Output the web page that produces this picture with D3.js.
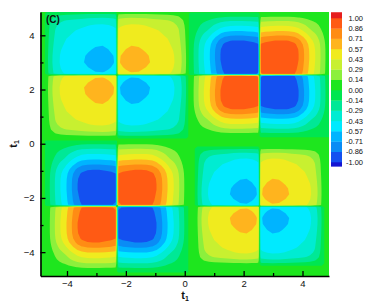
<!DOCTYPE html>
<html>
<head>
<meta charset="UTF-8"/>
<script src="https://cdn.jsdelivr.net/npm/d3@7"></script>
<style>
  body { margin: 0; background: #fff; }
  svg text { font-family: "Liberation Sans", Arial, sans-serif; fill: #111; }
  .axis path, .axis line { stroke: #000; }
</style>
</head>
<body>
<svg id="fig" width="382" height="308"></svg>
<script>
// contour levels (legend) and their labels
const levels = [-1, -0.857, -0.714, -0.571, -0.429, -0.286, -0.143, 0, 0.143, 0.286, 0.429, 0.571, 0.714, 0.857, 1]
const levelLabels = ["-1.00","-0.86","-0.71","-0.57","-0.43","-0.29","-0.14","0.00","0.14","0.29","0.43","0.57","0.71","0.86","1.00"]
// flood colours, from below -1 up to above 1
const bandColors = ["#1414d2","#1450f0","#0a8cf5","#00b4ff","#00eaff","#00ecd2","#00e896","#00e650",
                    "#1ee61e","#8cf03c","#c8f030","#f0eb1e","#ffb41e","#ff8c14","#ff5a14","#e61e1e"]

// the four lobe groups: cross centre, peak value, half widths along t1 / t2
const quadCx  = [-2.30, 2.54, -2.30,  2.54]
const quadCy  = [ 2.54, 2.54, -2.30, -2.30]
const quadAmp = [ 0.62, 0.98,  0.97,  0.62]
const quadWx  = [ 2.45, 2.40,  2.45,  2.20]
const quadWy  = [ 2.35, 2.30,  2.45,  2.20]
const quadShape = ["broad", "narrow", "narrow", "broad"]

// lobe profile read across a lobe: offset from the cross (in half widths) -> relative value
const shapeU = {
  narrow: [0, 0.02, 0.08, 0.16, 0.25, 0.33, 0.41, 0.49, 0.55, 0.61, 0.67, 0.73, 0.80, 0.86, 0.92, 0.98, 1],
  broad:  [0, 0.02, 0.05, 0.12, 0.20, 0.30, 0.40, 0.50, 0.60, 0.70, 0.78, 0.85, 0.91, 0.96, 1]
}
const shapeH = {
  narrow: [0, 0.93, 0.96, 0.98, 1.00, 1.00, 0.99, 0.95, 0.88, 0.77, 0.65, 0.53, 0.42, 0.30, 0.17, 0.06, 0],
  broad:  [0, 0.90, 0.93, 0.97, 1.00, 0.99, 0.95, 0.90, 0.85, 0.80, 0.72, 0.60, 0.42, 0.22, 0]
}

const xTicks = [-4, -2, 0, 2, 4], xMinor = [-3, -1, 1, 3]
const yTicks = [-4, -2, 0, 2, 4], yMinor = [-3, -1, 1, 3]

////////////////////////////////////////////////////////////

const svg = d3.select("#fig")
const x = d3.scaleLinear().domain([-4.9, 4.9]).range([40.5, 329])
const y = d3.scaleLinear().domain([-4.88, 4.86]).range([276, 12])
const split = 0.12   // border between the lobe groups

const plot = svg.append("g")

// background = band holding 0
plot.append("rect").attr("x", x(-4.9)).attr("y", y(4.86))
  .attr("width", x(4.9) - x(-4.9)).attr("height", y(-4.88) - y(4.86))
  .attr("fill", bandColors[8])

quadCx.forEach((cx, q) => {
  const cy = quadCy[q]
  const x0 = cx < split ? -4.9 : split, x1 = cx < split ? split : 4.9
  const y0 = cy < split ? -4.88 : split, y1 = cy < split ? split : 4.86
  svg.append("clipPath").attr("id", "clip" + q)
    .append("rect").attr("x", x(x0)).attr("y", y(y1))
    .attr("width", x(x1) - x(x0)).attr("height", y(y0) - y(y1))

  const u = shapeU[quadShape[q]], h = shapeH[quadShape[q]]
  const offs = u.slice(1).reverse().map(v => -v).concat(u)
  const prof = h.slice(1).reverse().map(v => -v).concat(h)
  const n = offs.length
  const xs = offs.map(o => cx + o * quadWx[q])
  const ys = offs.map(o => cy + o * quadWy[q])
  const values = new Array(n * n)
  for (let j = 0; j < n; j++)
    for (let i = 0; i < n; i++)
      values[j * n + i] = quadAmp[q] * prof[i] * prof[j]
  const neg = values.map(v => -v)

  const xi = d3.scaleLinear().domain(d3.range(n)).range(xs)
  const yi = d3.scaleLinear().domain(d3.range(n)).range(ys)
  const proj = d3.geoTransform({
    point: function(px, py) { this.stream.point(x(xi(px - 0.5)), y(yi(py - 0.5))) }
  })
  const path = d3.geoPath(proj)
  const gen = d3.contours().size([n, n])

  const g = plot.append("g").attr("clip-path", `url(#clip${q})`)
  // negative bands, widest first
  for (let k = 7; k >= 0; k--) {
    const t = k === 7 ? 1e-6 : -levels[k]
    g.append("path").attr("d", path(gen.contour(neg, t))).attr("fill", bandColors[k])
  }
  // positive bands
  for (let k = 8; k < levels.length; k++) {
    g.append("path").attr("d", path(gen.contour(values, levels[k]))).attr("fill", bandColors[k + 1])
  }
})

// axes
svg.append("g").attr("class", "axis").attr("transform", `translate(0,${y(-4.88)})`)
  .call(d3.axisBottom(x).tickValues(xTicks).tickSize(-5).tickSizeOuter(0).tickPadding(4)
        .tickFormat(d3.format("d")))
svg.append("g").attr("class", "axis").attr("transform", `translate(0,${y(-4.88)})`)
  .call(d3.axisBottom(x).tickValues(xMinor).tickSize(-3).tickFormat(""))
  .select(".domain").remove()
svg.append("g").attr("class", "axis").attr("transform", `translate(${x(-4.9)},0)`)
  .call(d3.axisLeft(y).tickValues(yTicks).tickSize(-5).tickSizeOuter(0).tickPadding(6)
        .tickFormat(d3.format("d")))
svg.append("g").attr("class", "axis").attr("transform", `translate(${x(-4.9)},0)`)
  .call(d3.axisLeft(y).tickValues(yMinor).tickSize(-3).tickFormat(""))
  .select(".domain").remove()

svg.selectAll(".axis .domain").attr("stroke-width", 1.6)
svg.selectAll(".axis .tick line").attr("stroke-width", 1.3)
svg.selectAll(".axis text").style("font-size", "9.5px").attr("fill", "#111")

// axis titles
const xt = svg.append("text").attr("x", 185).attr("y", 299).attr("text-anchor", "middle")
  .style("font-size", "11px").style("font-weight", "bold")
xt.append("tspan").text("t")
xt.append("tspan").attr("dy", 2).style("font-size", "7px").text("1")

const yt = svg.append("text").attr("transform", "translate(17,144) rotate(-90)").attr("text-anchor", "middle")
  .style("font-size", "11px").style("font-weight", "bold")
yt.append("tspan").text("t")
yt.append("tspan").attr("dy", 2).style("font-size", "7px").text("1")

svg.append("text").attr("x", 46).attr("y", 23).style("font-size", "10px").style("font-weight", "bold").text("(C)")

// legend
const ly = d3.scaleLinear().domain([-1, 1]).range([162, 18])
const legX = 331, legW = 11
const bandLo = [-1.06].concat(levels), bandHi = levels.concat([1.08])
const leg = svg.append("g")
leg.selectAll("rect").data(bandColors).join("rect")
  .attr("x", legX).attr("width", legW)
  .attr("y", (d, i) => ly(bandHi[i]))
  .attr("height", (d, i) => ly(bandLo[i]) - ly(bandHi[i]) + 0.3)
  .attr("fill", d => d)
leg.selectAll("text").data(levels).join("text")
  .attr("x", 363).attr("y", d => ly(d)).attr("dy", "0.35em").attr("text-anchor", "end")
  .style("font-size", "7.5px").attr("fill", "#222")
  .text((d, i) => levelLabels[i])
</script>
</body>
</html>
